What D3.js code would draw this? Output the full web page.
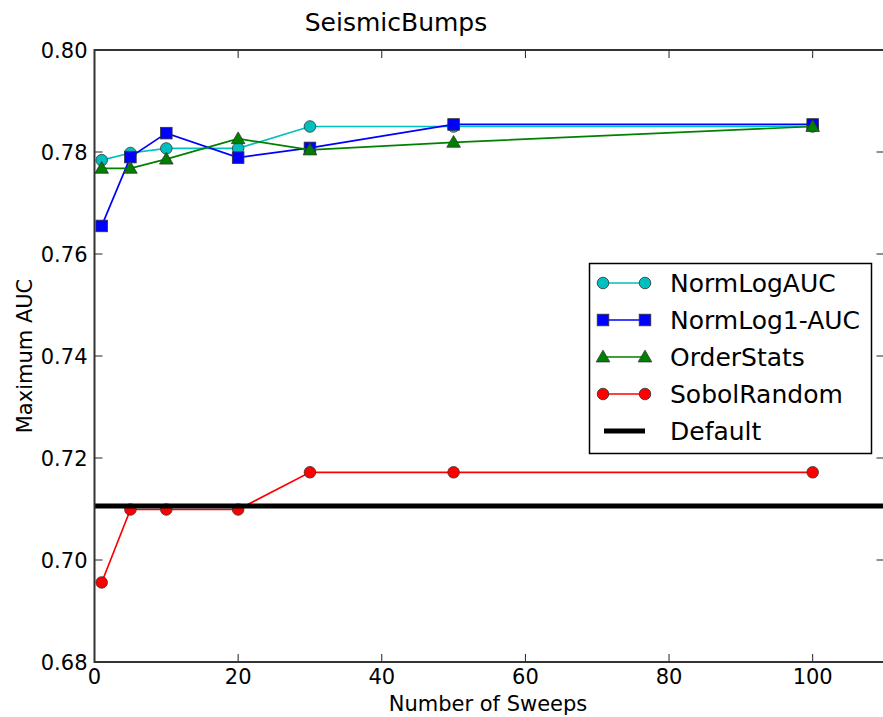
<!DOCTYPE html>
<html><head><meta charset="utf-8">
<script src="https://cdn.jsdelivr.net/npm/d3@7"></script>
<style>body{margin:0;background:#fff}svg{display:block}text{font-family:"DejaVu Sans",sans-serif;fill:#000}</style>
</head><body><svg id="c" width="883" height="717"></svg>
<script>
const sweeps = [1, 5, 10, 20, 30, 50, 100];
const normLogAUC = [0.7784, 0.7798, 0.7807, 0.7807, 0.7850, 0.7850, 0.7850];
const normLog1AUC = [0.7655, 0.7790, 0.7837, 0.7789, 0.7808, 0.7854, 0.7854];
const orderStats = [0.7768, 0.7768, 0.7786, 0.7826, 0.7804, 0.7819, 0.7850];
const sobolRandom = [0.6956, 0.7099, 0.7099, 0.7099, 0.7172, 0.7172, 0.7172];
const defaultAUC = 0.7106;
const xTicks = [0, 20, 40, 60, 80, 100];
const yTicks = [0.68, 0.70, 0.72, 0.74, 0.76, 0.78, 0.80];
const seriesNames = ["NormLogAUC", "NormLog1-AUC", "OrderStats", "SobolRandom", "Default"];

const svg = d3.select("#c");
const L = 94.5, R = 884.5, T = 50, B = 662;
const x = d3.scaleLinear().domain([0, 110]).range([L, R]);
const y = d3.scaleLinear().domain([0.68, 0.80]).range([B, T]);

const series = [
  {name: seriesNames[0], vals: normLogAUC, color: "#00bfbf", marker: "circle"},
  {name: seriesNames[1], vals: normLog1AUC, color: "#0000ff", marker: "square"},
  {name: seriesNames[2], vals: orderStats, color: "#008000", marker: "triangle"},
  {name: seriesNames[3], vals: sobolRandom, color: "#ff0000", marker: "circle"}
];

const clip = svg.append("defs").append("clipPath").attr("id", "pc");
clip.append("rect").attr("x", L).attr("y", T - 8).attr("width", R - L).attr("height", B - T + 16);

const plot = svg.append("g").attr("clip-path", "url(#pc)");
const line = d3.line().x((d, i) => x(sweeps[i])).y(d => y(d));

function drawMarker(g, type, cx, cy, color) {
  if (type === "circle") {
    g.append("circle").attr("cx", cx).attr("cy", cy).attr("r", 5.8)
      .attr("fill", color).attr("stroke", "#333").attr("stroke-width", 0.8);
  } else if (type === "square") {
    g.append("rect").attr("x", cx - 5.8).attr("y", cy - 5.8).attr("width", 11.6).attr("height", 11.6)
      .attr("fill", color).attr("stroke", "#333").attr("stroke-width", 0.8);
  } else {
    const s = d3.symbol().type(d3.symbolTriangle).size(80);
    g.append("path").attr("d", s()).attr("transform", `translate(${cx},${cy + 1})`)
      .attr("fill", color).attr("stroke", "#333").attr("stroke-width", 0.8);
  }
}

series.forEach(s => {
  const g = plot.append("g");
  g.append("path").datum(s.vals).attr("d", line).attr("fill", "none")
    .attr("stroke", s.color).attr("stroke-width", 1.7);
  s.vals.forEach((v, i) => drawMarker(g, s.marker, x(sweeps[i]), y(v), s.color));
});

plot.append("line").attr("x1", L).attr("x2", R).attr("y1", y(defaultAUC)).attr("y2", y(defaultAUC))
  .attr("stroke", "#000").attr("stroke-width", 5);

// axes (ticks inward on all sides)
const ax = svg.append("g");
const tl = 8;
xTicks.forEach(t => {
  ax.append("line").attr("x1", x(t)).attr("x2", x(t)).attr("y1", B).attr("y2", B - tl).attr("stroke", "#222").attr("stroke-width", 1);
  ax.append("line").attr("x1", x(t)).attr("x2", x(t)).attr("y1", T).attr("y2", T + tl).attr("stroke", "#222").attr("stroke-width", 1);
  ax.append("text").attr("x", x(t)).attr("y", B + 22).attr("text-anchor", "middle").attr("font-size", 21).text(d3.format("d")(t));
});
yTicks.forEach(t => {
  ax.append("line").attr("x1", L).attr("x2", L + tl).attr("y1", y(t)).attr("y2", y(t)).attr("stroke", "#222").attr("stroke-width", 1);
  ax.append("line").attr("x1", R).attr("x2", R - tl).attr("y1", y(t)).attr("y2", y(t)).attr("stroke", "#222").attr("stroke-width", 1);
  ax.append("text").attr("x", L - 7).attr("y", y(t) + 7.5).attr("text-anchor", "end").attr("font-size", 21).text(d3.format(".2f")(t));
});
ax.append("rect").attr("x", L).attr("y", T).attr("width", R - L).attr("height", B - T)
  .attr("fill", "none").attr("stroke", "#333").attr("stroke-width", 2);

svg.append("text").attr("x", 396).attr("y", 31).attr("text-anchor", "middle").attr("font-size", 25).text("SeismicBumps");
svg.append("text").attr("x", 488).attr("y", 711).attr("text-anchor", "middle").attr("font-size", 21).text("Number of Sweeps");
svg.append("text").attr("transform", `translate(32,${(T + B) / 2}) rotate(-90)`).attr("text-anchor", "middle").attr("font-size", 21).text("Maximum AUC");

// legend
const lg = svg.append("g");
lg.append("rect").attr("x", 589.5).attr("y", 263.5).attr("width", 282).attr("height", 190)
  .attr("fill", "#fff").attr("stroke", "#000").attr("stroke-width", 1.5);
const legItems = series.concat([{name: seriesNames[4], color: "#000", marker: null}]);
legItems.forEach((s, i) => {
  const cy = 283 + i * 37;
  const g = lg.append("g");
  if (s.marker) {
    g.append("line").attr("x1", 603).attr("x2", 645).attr("y1", cy).attr("y2", cy).attr("stroke", s.color).attr("stroke-width", 1.7);
    drawMarker(g, s.marker, 603, cy, s.color);
    drawMarker(g, s.marker, 645, cy, s.color);
  } else {
    g.append("line").attr("x1", 604).attr("x2", 645).attr("y1", cy).attr("y2", cy).attr("stroke", "#000").attr("stroke-width", 5);
  }
  g.append("text").attr("x", 670).attr("y", cy + 9).attr("font-size", 25).text(s.name);
});
</script></body></html>
